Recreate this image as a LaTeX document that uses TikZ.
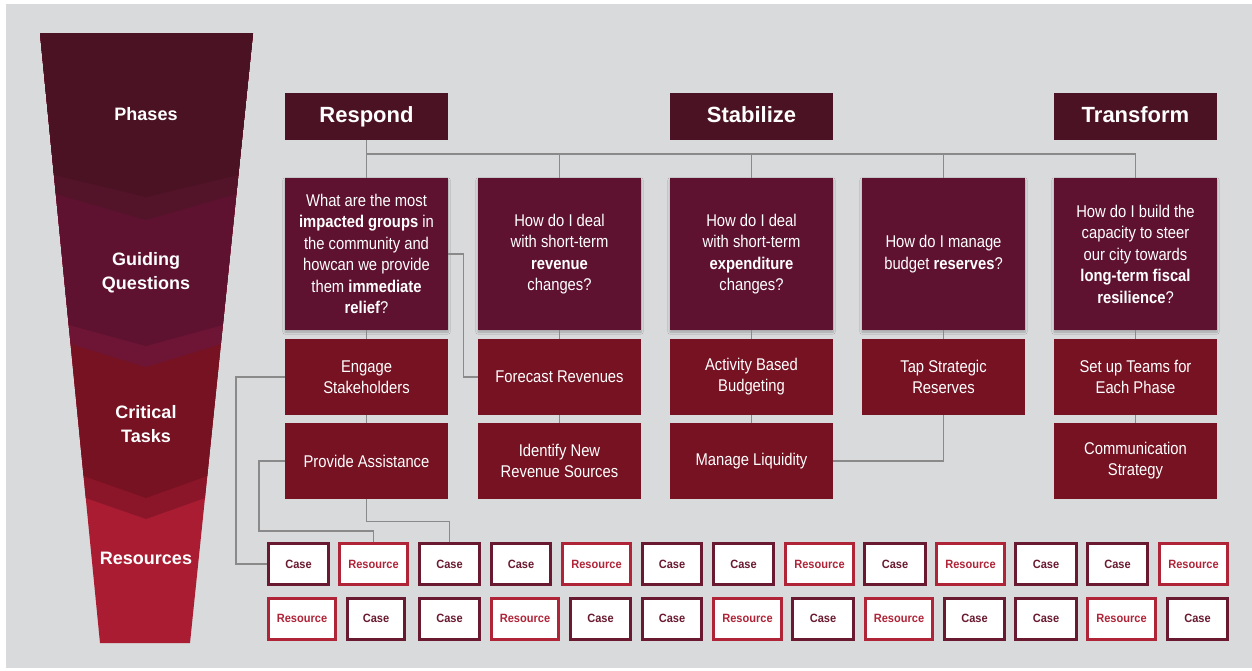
\documentclass[tikz,border=0pt]{standalone}
\usepackage{fontspec}
\setmainfont{Liberation Sans}
\newfontfamily\narrowfont[FakeStretch=0.87]{Liberation Sans}
\newfontfamily\smallboxfont[FakeStretch=0.92]{Liberation Sans}
\definecolor{bgcol}{HTML}{D9DADC}
\definecolor{phasecol}{HTML}{4A1222}
\definecolor{questcol}{HTML}{5E1230}
\definecolor{taskcol}{HTML}{761222}
\definecolor{rescol}{HTML}{A91C32}
\definecolor{banda}{HTML}{53142A}
\definecolor{bandb}{HTML}{6E1535}
\definecolor{bandc}{HTML}{8C1629}
\definecolor{casecol}{HTML}{6A1A30}
\definecolor{resbord}{HTML}{B02438}
\definecolor{linecol}{HTML}{8A8A8A}
\usetikzlibrary{calc, shadows.blur}

\begin{document}
\begin{tikzpicture}[x=1pt, y=-1pt,
		phasebox/.style={fill=phasecol, text=white, minimum width=163pt, minimum height=47pt, inner sep=0pt,
			text height=16pt, text depth=4pt, font=\fontsize{22}{26}\selectfont\bfseries},
		questbox/.style={fill=questcol, text=white, minimum width=163pt, minimum height=152pt, inner sep=0pt,
			align=center, font=\narrowfont\fontsize{17}{21.5}\selectfont,
			blur shadow={shadow blur steps=6, shadow xshift=0pt, shadow yshift=-2pt, shadow opacity=25}},
		taskbox/.style={fill=taskcol, text=white, minimum width=163pt, minimum height=76pt, inner sep=0pt,
			align=center, font=\narrowfont\fontsize{17}{21}\selectfont},
		casebox/.style={draw=casecol, text=casecol, fill=white, line width=3pt, minimum height=41pt, inner sep=0pt,
			font=\smallboxfont\fontsize{12}{14}\selectfont\bfseries},
		resbox/.style={casebox, draw=resbord, text=resbord},
		funnel/.style={text=white, align=center, font=\fontsize{18}{24}\selectfont\bfseries},
		link/.style={draw=linecol, line width=1.4pt}]
	
	% page and background
	\fill[white] (0,0) rectangle (1252,670);
	\fill[bgcol] (6,4) rectangle (1252,668);
	\useasboundingbox (0,0) rectangle (1252,670);
	
	% funnel, drawn from the bottom section up
	\fill[rescol] (40,33) -- (253,33) -- (190,643) -- (100,643) -- cycle;
	\foreach \yb/\yc/\col in {498/519/bandc, 476/498/taskcol, 344/367/bandb, 325/346/questcol, 194/220/banda, 175/197/phasecol} {
		\pgfmathsetmacro{\xl}{40+(\yb-33)/610*60}
		\pgfmathsetmacro{\xr}{253-(\yb-33)/610*63}
		\fill[\col] (40,33) -- (253,33) -- (\xr,\yb) -- (146,\yc) -- (\xl,\yb) -- cycle;
	}
	\node[funnel] (fphase) at (146,114) {Phases};
	\node[funnel] (fquest) at (146,273) {Guiding\\Questions};
	\node[funnel] (ftask) at (146,424) {Critical\\Tasks};
	\node[funnel] (fres) at (146,558) {Resources};
	
	% phases
	\node[phasebox] (resp) at (366.5,116.5) {Respond};
	\node[phasebox] (stab) at (751.5,116.5) {Stabilize};
	\node[phasebox] (transf) at (1135.5,116.5) {Transform};
	
	% guiding questions
	\node[questbox] (q1) at (366.5,254) {What are the most\\\textbf{impacted groups} in\\the community and\\howcan we provide\\them \textbf{immediate}\\\textbf{relief}?};
	\node[questbox] (q2) at (559.5,254) {How do I deal\\with short-term\\\textbf{revenue}\\changes?};
	\node[questbox] (q3) at (751.5,254) {How do I deal\\with short-term\\\textbf{expenditure}\\changes?};
	\node[questbox] (q4) at (943.5,254) {How do I manage\\budget \textbf{reserves}?};
	\node[questbox] (q5) at (1135.5,254) {How do I build the\\capacity to steer\\our city towards\\\textbf{long-term fiscal}\\\textbf{resilience}?};
	
	% critical tasks
	\node[taskbox] (t1a) at (366.5,377) {Engage\\Stakeholders};
	\node[taskbox] (t1b) at (366.5,461) {Provide Assistance};
	\node[taskbox] (t2a) at (559.5,377) {Forecast Revenues};
	\node[taskbox] (t2b) at (559.5,461) {Identify New\\Revenue Sources};
	\node[taskbox] (t3a) at (751.5,377) {Activity Based\\Budgeting};
	\node[taskbox] (t3b) at (751.5,461) {Manage Liquidity};
	\node[taskbox] (t4a) at (943.5,377) {Tap Strategic\\Reserves};
	\node[taskbox] (t5a) at (1135.5,377) {Set up Teams for\\Each Phase};
	\node[taskbox] (t5b) at (1135.5,461) {Communication\\Strategy};
	
	% resources, two rows
	\foreach \l/\r/\k/\t [count=\n] in {267/330/casebox/Case, 338/409/resbox/Resource, 418/481/casebox/Case,
		490/552/casebox/Case, 561/632/resbox/Resource, 641/703/casebox/Case, 712/775/casebox/Case,
		784/855/resbox/Resource, 863/927/casebox/Case, 935/1006/resbox/Resource, 1014/1078/casebox/Case,
		1086/1149/casebox/Case, 1158/1229/resbox/Resource}
		\node[\k, minimum width={\r-\l-3}] (ca\n) at ({(\l+\r)/2},564) {\t};
	\foreach \l/\r/\k/\t [count=\n] in {267/337/resbox/Resource, 346/406/casebox/Case, 418/481/casebox/Case,
		490/560/resbox/Resource, 569/632/casebox/Case, 641/703/casebox/Case, 712/783/resbox/Resource,
		791/855/casebox/Case, 864/934/resbox/Resource, 943/1006/casebox/Case, 1014/1078/casebox/Case,
		1086/1157/resbox/Resource, 1166/1229/casebox/Case}
		\node[\k, minimum width={\r-\l-3}] (cb\n) at ({(\l+\r)/2},618.5) {\t};
	
	% tree from the phases
	\coordinate (bus) at (366.5,154);
	\draw[link] (resp.south) -- (q1.north);
	\draw[link] (bus) -| (q5.north);
	\foreach \i in {2,3,4}
		\draw[link] (bus -| q\i.north) -- (q\i.north);
	
	% questions to tasks
	\foreach \i in {1,2,3,4,5}
		\draw[link] (q\i.south) -- (t\i a.north);
	\foreach \i in {1,2,3,5}
		\draw[link] (t\i a.south) -- (t\i b.north);
	\draw[link] (t4a.south) |- (t3b.east);
	\draw[link] (q1.east) -- ++(15,0) |- (t2a.west);
	
	% tasks to resources
	\draw[link] (t1a.west) -- ++(-49,0) |- (ca1.west);
	\draw[link] (t1b.west) -- ++(-26,0) |- ([yshift=11pt]ca2.north) -- (ca2.north);
	\draw[link] (t1b.south) -- ++(0,22) -| (ca3.north);
	
\end{tikzpicture}
\end{document}
